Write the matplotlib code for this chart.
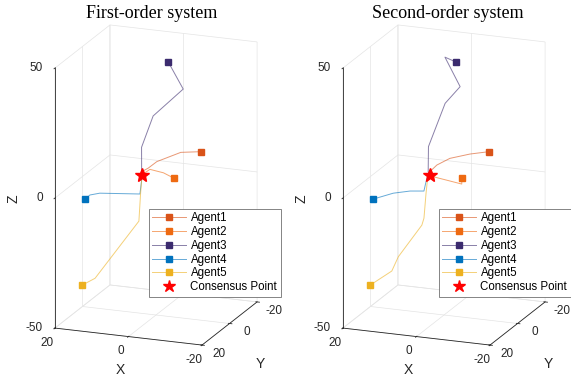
import numpy as np
import matplotlib
matplotlib.use('Agg')
import matplotlib.pyplot as plt
from matplotlib.lines import Line2D
from mpl_toolkits.mplot3d import proj3d

plt.rcParams['font.family'] = ['Liberation Sans', 'DejaVu Sans']
plt.rcParams['axes.unicode_minus'] = False
plt.rcParams['grid.color'] = '#e4e4e4'
plt.rcParams['grid.linewidth'] = 0.5
plt.rcParams['xtick.color'] = '#262626'
plt.rcParams['ytick.color'] = '#262626'

names = ['Agent1', 'Agent2', 'Agent3', 'Agent4', 'Agent5']
colors = ['#D95319', '#EE6A12', '#3B2B6E', '#0072BD', '#EDB120']
consensus = [3.9, 0.0, 3.2]
titles = ['First-order system', 'Second-order system']
xticks = [-20, 0, 20]
yticks = [-20, 0, 20]
zticks = [-50, 0, 50]

# first-order trajectories (x, y, z), first point = start
first_x = [[-9.2, -4.5, 0.9, 2.7, 3.6, 3.9],
           [-7.9, -3.9, 0.9, 3.9],
           [-1.5, -5.9, 1.9, 4.3, 3.9, 3.9],
           [17.4, 16.1, 13.6, 4.0, 3.9, 3.9],
           [16.3, 13.2, 3.9, 4.0, 3.9, 3.9]]
first_y = [[-8, -6, -3, -1.5, -0.5, 0],
           [8, 5, 2, 0],
           [-5, -4, -3, -1, 0, 0],
           [5, 5, 4.5, 1, 0, 0],
           [10, 9, 2, 0.5, 0, 0]]
first_z = [[11.0, 10.8, 7.6, 5.4, 4.7, 3.2],
           [7.2, 7.4, 6.7, 3.2],
           [45.4, 36.2, 25.0, 13.4, 4.5, 3.2],
           [-6.2, -4.4, -3.5, -3.7, 1.3, 3.2],
           [-37.0, -34.3, -13.7, -3.6, 1.3, 3.2]]

# second-order trajectories
second_x = [[-9.2, -4.8, -0.1, 2.7, 4.0, 3.9],
            [-7.9, -8.0, -2.4, 1.4, 3.9],
            [-1.5, 1.8, -2.7, 1.0, 4.6, 4.3, 3.9],
            [17.4, 12.3, 8.1, 4.9, 4.7, 4.5, 3.9],
            [16.3, 11.2, 9.8, 4.9, 4.7, 4.7, 4.5, 3.9]]
second_y = [[-8, -6, -4, -2, -0.5, 0],
            [8, 8.5, 5, 2, 0],
            [-5, -5.5, -4.5, -3.5, -1, 0, 0],
            [5, 4, 3, 1.5, 0.5, 0, 0],
            [10, 8, 7, 3, 2, 0.5, 0, 0]]
second_z = [[11.0, 10.2, 8.6, 6.4, 4.3, 3.2],
            [7.2, 5.2, 4.4, 3.5, 3.2],
            [45.4, 46.6, 36.4, 29.8, 13.6, 4.4, 3.2],
            [-6.2, -3.5, -2.4, -2.5, 0.7, 2.5, 3.2],
            [-37.0, -31.6, -26.3, -15.0, -12.7, -3.8, 1.2, 3.2]]

W, H = 571, 381
fig = plt.figure(figsize=(W / 100, H / 100), dpi=100)

# target pixel positions (from top-left) of box centre and z-span
centers = [(156, 185), (444, 185)]
zspan = 260


def to_fig(ax, p):
    # 3d data point -> figure fraction
    a, b, _ = proj3d.proj_transform(*p, ax.get_proj())
    d = ax.transData.transform((a, b))
    return d[0] / W, d[1] / H


def fit_axes(ax, cx, cy):
    # scale and move the square 3d axes so the box lands where wanted
    for _ in range(3):
        fig.canvas.draw()
        c, top, bot = [np.array(to_fig(ax, p)) * [W, H]
                       for p in [(0, 0, 0), (20, 20, 50), (20, 20, -50)]]
        s = zspan / (top[1] - bot[1])
        pos = ax.get_position()
        size = pos.width * W * s
        acx = (pos.x0 + pos.width / 2) * W
        acy = (pos.y0 + pos.height / 2) * H
        ncx = cx - (c[0] - acx) * s
        ncy = (H - cy) - (c[1] - acy) * s
        ax.set_position([(ncx - size / 2) / W, (ncy - size / 2) / H,
                         size / W, size / H])
    fig.canvas.draw()


tick_kw = dict(fontsize=8.5, color='#262626', va='center')
panels = [(first_x, first_y, first_z), (second_x, second_y, second_z)]
for k, (px, py, pz) in enumerate(panels):
    dx = 288 * k
    ax = fig.add_axes([0.1 + 0.5 * k, 0.1, 0.35, 0.5], projection='3d',
                      proj_type='ortho')
    ax.set_facecolor('none')
    ax.computed_zorder = False
    ax.view_init(elev=17.5, azim=111)
    ax.set_box_aspect((1, 0.975, 1.73))
    ax.set_xlim(-20, 20)
    ax.set_ylim(-20, 20)
    ax.set_zlim(-50, 50)
    ax.set_xticks(xticks)
    ax.set_yticks(yticks)
    ax.set_zticks(zticks)
    ax.zaxis.set_ticks_position('upper')
    # unused empty texts of the 3d axes
    for t in (ax.title, ax._left_title, ax._right_title):
        t.set_visible(False)

    for axis in (ax.xaxis, ax.yaxis, ax.zaxis):
        axis.set_tick_params(labelbottom=False)
        axis.label.set_visible(False)
        axis.offsetText.set_visible(False)
        axis.set_pane_color((1, 1, 1, 0))
        axis.pane.set_edgecolor('#dcdcdc')
        axis.pane.set_linewidth(0.5)
        axis.line.set_color('#262626')
        axis.line.set_linewidth(0.6)
        axis._axinfo['tick']['linewidth'] = {True: 0.6, False: 0.5}

    for i in range(5):
        ax.plot(px[i], py[i], pz[i], color=colors[i], lw=0.7, alpha=0.6,
                zorder=2)
        ax.plot([px[i][0]], [py[i][0]], [pz[i][0]], ls='none', marker='s',
                ms=4.5, color=colors[i], zorder=3)
    ax.plot([consensus[0]], [consensus[1]], [consensus[2]], ls='none',
            marker='*', ms=10, color='red', zorder=4)

    fit_axes(ax, *centers[k])

    # tick labels, set off from the box edges the way MATLAB does
    for t in xticks:
        fig.text(*to_fig(ax, (t, 25.8, -53.2)), str(t), ha='center',
                 **tick_kw)
    for t in yticks:
        fig.text(*to_fig(ax, (-24.6, t, -52.7)), str(t), ha='center',
                 **tick_kw)
    for t in zticks:
        fig.text(*to_fig(ax, (22.8, 21.1, t)), str(t), ha='right', **tick_kw)

    fig.text((152 + 296 * k) / W, 1 - 14 / H, titles[k], ha='center',
             va='center', fontsize=13, family=['Liberation Serif'])
    # axis labels placed like MATLAB's
    fig.text((120 + dx) / W, 1 - 370 / H, 'X', ha='center', va='center',
             fontsize=10, color='#262626')
    fig.text((260 + dx) / W, 1 - 364 / H, 'Y', ha='center', va='center',
             fontsize=10, color='#262626')
    fig.text((14 + dx) / W, 1 - 199 / H, 'Z', ha='center', va='center',
             fontsize=10, rotation=90, color='#262626')

    handles = []
    for i in range(5):
        handles.append(Line2D([], [], color=colors[i], lw=0.7,
                              marker='s', ms=4.5, mfc=colors[i],
                              mec=colors[i]))
    handles.append(Line2D([], [], ls='none', marker='*', ms=9, color='red'))
    leg = fig.legend(handles, names + ['Consensus Point'], fontsize=8.3,
                     loc='upper left',
                     bbox_to_anchor=((149 + 290 * k) / W, 1 - 209 / H),
                     fancybox=False, framealpha=1, edgecolor='#707070',
                     borderaxespad=0, handlelength=2.95, handletextpad=0.35,
                     labelspacing=0.15, borderpad=0.3)
    leg.get_frame().set_linewidth(0.6)
    for h in leg.legend_handles[:5]:
        h.set_color(matplotlib.colors.to_rgba(h.get_mfc(), 0.6))

fig.savefig('out.png', dpi=100)
